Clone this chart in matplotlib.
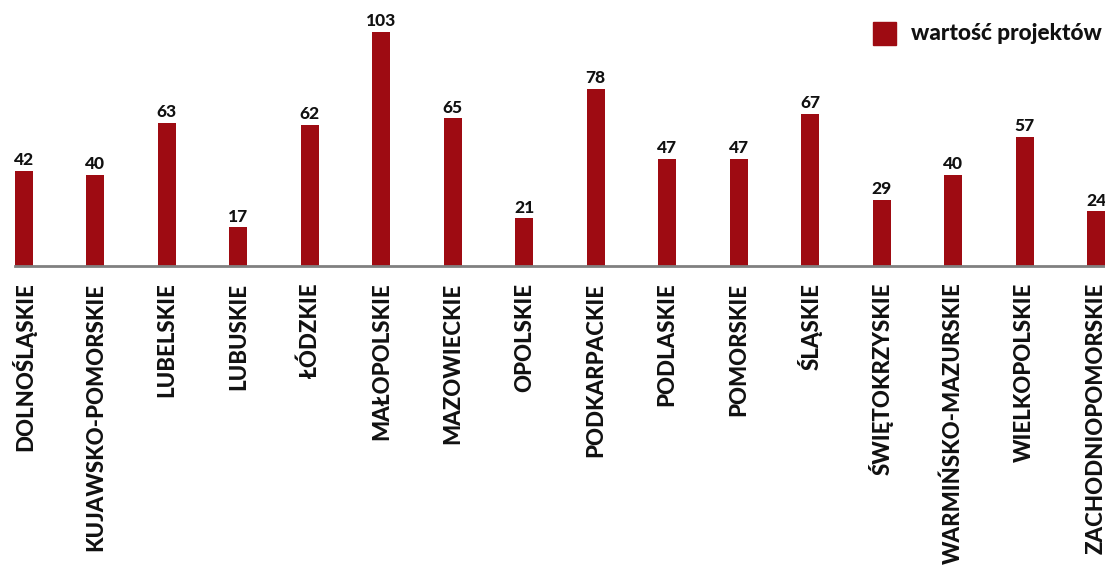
import matplotlib
matplotlib.use("Agg")
import matplotlib.pyplot as plt
from matplotlib.patches import Rectangle

regions = ["DOLNOŚLĄSKIE", "KUJAWSKO-POMORSKIE", "LUBELSKIE", "LUBUSKIE", "ŁÓDZKIE",
           "MAŁOPOLSKIE", "MAZOWIECKIE", "OPOLSKIE", "PODKARPACKIE", "PODLASKIE",
           "POMORSKIE", "ŚLĄSKIE", "ŚWIĘTOKRZYSKIE", "WARMIŃSKO-MAZURSKIE",
           "WIELKOPOLSKIE", "ZACHODNIOPOMORSKIE"]
values = [42, 40, 63, 17, 62, 103, 65, 21, 78, 47, 47, 67, 29, 40, 57, 24]
legend_label = "wartość projektów"

bar_color = "#9e0b12"
plt.rcParams['font.family'] = ['Lato', 'DejaVu Sans']

W, H = 1105, 567
fig = plt.figure(figsize=(W / 100, H / 100), dpi=100)
ax = fig.add_axes([15 / W, (H - 266) / H, 1090 / W, 266 / H])

x = list(range(len(values)))
ax.bar(x, values, width=0.25, color=bar_color, zorder=2)
ax.set_xlim(-0.125, len(values) - 1 + 0.125)
ax.set_ylim(0, 266 / (234 / 103))

for xi, v in zip(x, values):
    ax.annotate(str(v), (xi, v), xytext=(0, 2), textcoords="offset points",
                ha="center", va="bottom", fontsize=12.5, fontweight="black",
                color="#111111")

for s in ["top", "right", "left"]:
    ax.spines[s].set_visible(False)
ax.spines["bottom"].set_color("#808080")
ax.spines["bottom"].set_linewidth(2)
ax.spines["bottom"].set_zorder(3)
ax.set_yticks([])
ax.set_xticks(x)
ax.set_xticklabels(regions, rotation=90, fontsize=16, fontweight="black", color="#111111")
ax.tick_params(axis="x", length=0, pad=12)

# legend
fig.patches.append(Rectangle((873 / W, (H - 45) / H), 23 / W, 23 / H,
                             transform=fig.transFigure, color=bar_color))
fig.text(911 / W, (H - 33.5) / H, legend_label, ha="left", va="center",
         fontsize=16.3, fontweight="black", color="#111111")

fig.savefig("out.png", dpi=100)
